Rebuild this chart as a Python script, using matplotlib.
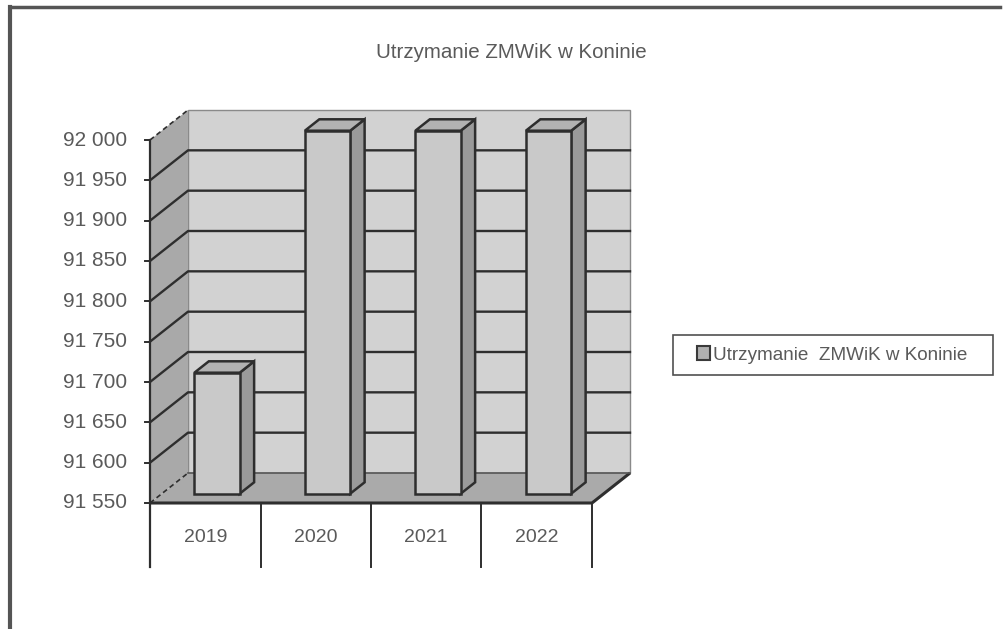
import matplotlib
matplotlib.use("Agg")
import matplotlib.pyplot as plt
from matplotlib.patches import Polygon, Patch, Rectangle
from matplotlib.lines import Line2D

# ---------------- data ----------------
categories = ["2019", "2020", "2021", "2022"]
values = [91700, 92000, 92000, 92000]
series_name = "Utrzymanie  ZMWiK w Koninie"
title = "Utrzymanie ZMWiK w Koninie"
y_ticks = [91550, 91600, 91650, 91700, 91750, 91800, 91850, 91900, 91950, 92000]
y_tick_labels = ["91 550", "91 600", "91 650", "91 700", "91 750",
                 "91 800", "91 850", "91 900", "91 950", "92 000"]

# ---------------- layout (pixels) ----------------
W, H = 1004, 629
FX0, FX1 = 150, 592       # front plane left/right x (px)
FY0, FY1 = 503, 140       # front plane y of ymin / ymax (px from top)
DEPTH_DX, DEPTH_DY = 38, -30   # full depth offset (px)
YMIN, YMAX = y_ticks[0], y_ticks[-1]
n = len(categories)

cat_px = (FX1 - FX0) / n
val_px = (FY0 - FY1) / (YMAX - YMIN)

xlim = (-FX0 / cat_px, (W - FX0) / cat_px)
ylim = (YMIN - (H - FY0) / val_px, YMIN + FY0 / val_px)
ddx = DEPTH_DX / cat_px
ddy = -DEPTH_DY / val_px

plt.rcParams['font.family'] = ['Liberation Sans', 'DejaVu Sans']
fig = plt.figure(figsize=(W / 100, H / 100), dpi=100)
ax = fig.add_axes([0, 0, 1, 1])
ax.set_xlim(*xlim)
ax.set_ylim(*ylim)
ax.axis("off")

TXT = "#5a5a5a"
EDGE = "#2e2e2e"
WALL_BACK = "#d2d2d2"
WALL_LEFT = "#a9a9a9"
FLOOR = "#aaaaaa"
BAR_FRONT = "#c9c9c9"
BAR_SIDE = "#9a9a9a"
BAR_TOP = "#b2b2b2"


def P(x, y, f):
    """point at category x, value y, depth fraction f"""
    return (x + f * ddx, y + f * ddy)


# back wall
ax.add_patch(Polygon([P(0, YMIN, 1), P(n, YMIN, 1), P(n, YMAX, 1), P(0, YMAX, 1)],
                     closed=True, facecolor=WALL_BACK, edgecolor="#8a8a8a", lw=1.0, zorder=1))
# left wall
ax.add_patch(Polygon([P(0, YMIN, 0), P(0, YMIN, 1), P(0, YMAX, 1), P(0, YMAX, 0)],
                     closed=True, facecolor=WALL_LEFT, edgecolor="none", zorder=1))
# floor
ax.add_patch(Polygon([P(0, YMIN, 0), P(n, YMIN, 0), P(n, YMIN, 1), P(0, YMIN, 1)],
                     closed=True, facecolor=FLOOR, edgecolor="none", zorder=1))
fx = [P(0, YMIN, 0)[0], P(n, YMIN, 0)[0], P(n, YMIN, 1)[0]]
fy = [P(0, YMIN, 0)[1], P(n, YMIN, 0)[1], P(n, YMIN, 1)[1]]
ax.plot(fx, fy, color=EDGE, lw=2.2, zorder=2, solid_capstyle="butt")
ax.plot([P(0, YMIN, 1)[0], P(n, YMIN, 1)[0]], [P(0, YMIN, 1)[1]] * 2, color="#555555", lw=1.2, zorder=2)

# gridlines
for v in y_ticks:
    a, b, c = P(0, v, 0), P(0, v, 1), P(n, v, 1)
    if v in (YMIN, YMAX):
        ax.plot([a[0], b[0]], [a[1], b[1]], color=EDGE, lw=1.2, ls=(0, (3, 2)), zorder=2)
        continue
    ax.plot([a[0], b[0], c[0]], [a[1], b[1], c[1]], color=EDGE, lw=1.7, zorder=2)

# bars
BW = 0.41
F1, F2 = 0.31, 0.69
for i, v in enumerate(values):
    x0 = i + (1 - BW) / 2
    x1 = x0 + BW
    front = [P(x0, YMIN, F1), P(x1, YMIN, F1), P(x1, v, F1), P(x0, v, F1)]
    side = [P(x1, YMIN, F1), P(x1, YMIN, F2), P(x1, v, F2), P(x1, v, F1)]
    top = [P(x0, v, F1), P(x1, v, F1), P(x1, v, F2), P(x0, v, F2)]
    for pts, col in ((side, BAR_SIDE), (top, BAR_TOP), (front, BAR_FRONT)):
        ax.add_patch(Polygon(pts, closed=True, facecolor=col, edgecolor=EDGE,
                             lw=1.8, joinstyle="miter", zorder=3))

# front value axis and tick marks
axis_bottom = YMIN - 64 / val_px
ax.plot([0, 0], [axis_bottom, YMAX], color=EDGE, lw=1.6, zorder=4)
tick_len = 5 / cat_px
for v, lab in zip(y_ticks, y_tick_labels):
    ax.plot([-tick_len, 0], [v, v], color=EDGE, lw=1.4, zorder=4)
    ax.text(-(FX0 - 127) / cat_px, v, lab, ha="right", va="center",
            fontsize=15, color=TXT, zorder=4)

# category separators and labels
for k in range(1, n + 1):
    ax.plot([k, k], [axis_bottom, YMIN], color=EDGE, lw=1.4, zorder=4)
for k, lab in enumerate(categories):
    ax.text(k + 0.5, YMIN - 35 / val_px, lab, ha="center", va="center",
            fontsize=14, color=TXT, zorder=4)

# title
fig.text(511 / W, 1 - 52 / H, title, ha="center", va="center", fontsize=14.8, color=TXT)

# legend (frame drawn separately to match the wide padding of the original)
fig.add_artist(Rectangle((673 / W, 1 - 375 / H), (993 - 673) / W, 40 / H,
                         transform=fig.transFigure, facecolor="white",
                         edgecolor="#505050", lw=1.2))
handle = Patch(facecolor="#b0b0b0", edgecolor="#3a3a3a", linewidth=1.5)
leg = fig.legend([handle], [series_name], loc="center left",
                 bbox_to_anchor=(697 / W, 1 - 355 / H), frameon=False,
                 fontsize=13.6, handlelength=0.7, handleheight=0.7, handletextpad=0.15,
                 borderpad=0, borderaxespad=0)
for t in leg.get_texts():
    t.set_color(TXT)

# outer border of the scanned chart
fig.add_artist(Line2D([10 / W, 10 / W], [0, 1 - 7 / H], color="#555555", lw=3.0))
fig.add_artist(Line2D([10 / W, 1000 / W], [1 - 7 / H, 1 - 7 / H], color="#555555", lw=2.5))

fig.savefig("out.png", dpi=100)
